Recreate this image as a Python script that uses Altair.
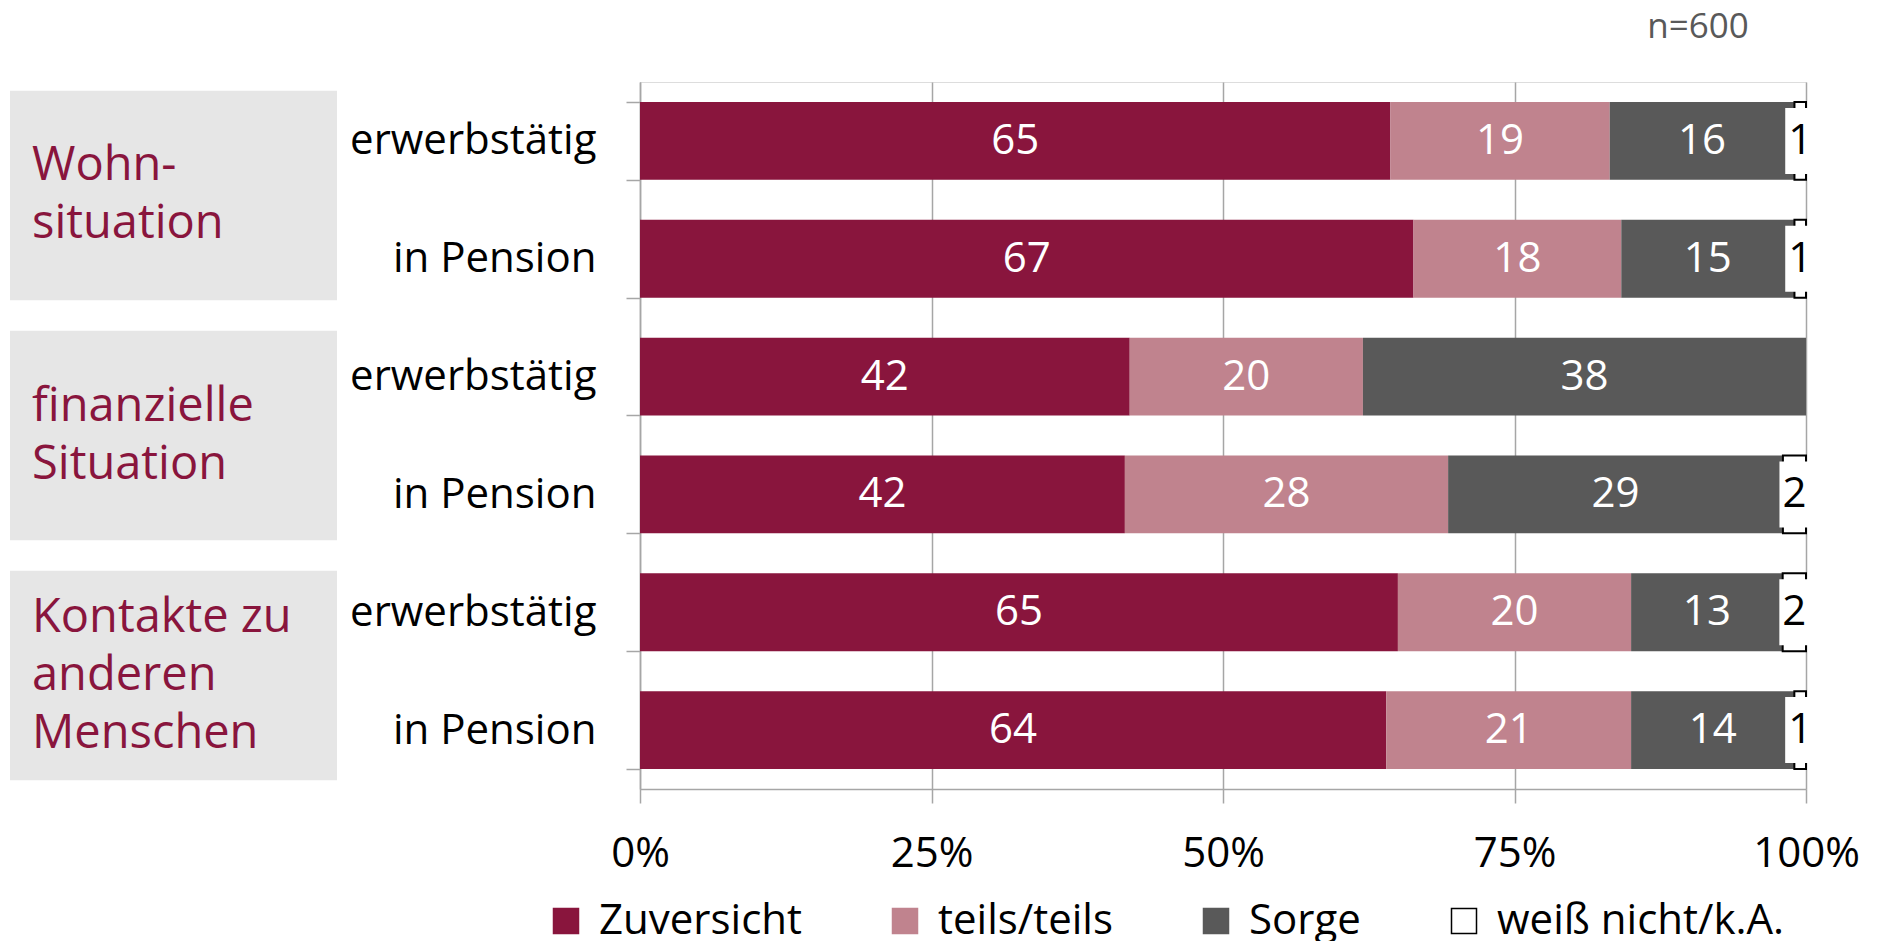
import altair as alt
import pandas as pd

# ---- data ----
group_keys = ["Wohnsituation", "Finanzen", "Kontakte"]
group_labels = ["Wohn-\nsituation", "finanzielle\nSituation", "Kontakte zu\nanderen\nMenschen"]
subgroups = ["erwerbstätig", "in Pension"]
categories = ["Zuversicht", "teils/teils", "Sorge", "weiß nicht/k.A."]
zuversicht = [65, 67, 42, 42, 65, 64]
teils = [19, 18, 20, 28, 20, 21]
sorge = [16, 15, 38, 29, 13, 14]
weiss = [1, 1, 0, 2, 2, 1]
n_label = "n=600"

colors = ["#89153D", "#C0838E", "#595959", "#FFFFFF"]
strokes = ["#89153D", "#C0838E", "#595959", "#000000"]
FONT = "Open Sans"
FS = 42
GFS = 47
LINE_H = 58

# ---- build tables ----
row_keys = [f"{g}|{s}" for g in group_keys for s in subgroups]
series = [zuversicht, teils, sorge, weiss]
records = []
for ri, rk in enumerate(row_keys):
    for ci, cat in enumerate(categories):
        records.append({"row": rk, "cat": cat, "order": ci, "value": series[ci][ri]})
df = pd.DataFrame(records)
gdf = pd.DataFrame({
    "group": group_keys,
    "label": group_labels,
    "nlines": [len(s.split("\n")) for s in group_labels],
})
ndf = pd.DataFrame({"t": [n_label]})

y_scale = alt.Scale(domain=row_keys, paddingInner=0.34, paddingOuter=0.17)
g_scale = alt.Scale(domain=group_keys, paddingInner=0.127, paddingOuter=0.036)

base = (
    alt.Chart(df)
    .transform_filter("datum.value > 0")
    .transform_stack(
        stack="value",
        groupby=["row"],
        sort=[alt.SortField("order", order="ascending")],
        as_=["v0", "v1"],
        offset="normalize",
    )
    .transform_calculate(mid="(datum.v0 + datum.v1) / 2")
)

legend_params = dict(
    title=None,
    orient="none",
    legendX=-95,
    legendY=818,
    direction="horizontal",
    symbolType="square",
    symbolSize=625,
    symbolStrokeWidth=1.5,
    labelFontSize=FS,
    labelFont=FONT,
    labelColor="black",
    labelLimit=500,
    labelOffset=12,
    columnPadding=82,
    padding=0,
)

y_axis = alt.Axis(
    title=None,
    labelExpr="split(datum.label, '|')[1]",
    labelFontSize=FS,
    labelFont=FONT,
    labelColor="black",
    labelLimit=500,
    labelPadding=30,
    tickSize=14,
    tickBand="extent",
    tickColor="#A6A6A6",
    tickWidth=1.5,
    domainColor="#A6A6A6",
    domainWidth=1.5,
    grid=False,
)

x_axis = alt.Axis(
    title=None,
    values=[0, 0.25, 0.5, 0.75, 1],
    format="%",
    labelFontSize=FS,
    labelFont=FONT,
    labelColor="black",
    labelFlush=False,
    labelPadding=30,
    tickSize=14,
    tickColor="#A6A6A6",
    tickWidth=1.5,
    domainColor="#A6A6A6",
    domainWidth=1.5,
    grid=True,
    gridColor="#A6A6A6",
    gridWidth=1.5,
)

bars = base.mark_bar().encode(
    y=alt.Y("row:N", scale=y_scale, axis=y_axis, sort=row_keys),
    x=alt.X("v0:Q", scale=alt.Scale(domain=[0, 1], nice=False), axis=x_axis),
    x2="v1:Q",
    fill=alt.Fill("cat:N", scale=alt.Scale(domain=categories, range=colors), legend=alt.Legend(**legend_params)),
    stroke=alt.Stroke("cat:N", scale=alt.Scale(domain=categories, range=strokes), legend=alt.Legend(**legend_params)),
    strokeWidth=alt.condition("datum.cat == 'weiß nicht/k.A.'", alt.value(2), alt.value(0)),
)

label_box = (
    base.transform_filter("datum.cat == 'weiß nicht/k.A.'")
    .mark_point(shape="M-0.4545,-1H0.4545V1H-0.4545Z", filled=True, fill="white", opacity=1, size=4356, strokeWidth=0)
    .encode(y=alt.Y("row:N", scale=y_scale, sort=row_keys), x=alt.X("mid:Q"))
)

labels = base.mark_text(font=FONT, fontSize=FS, baseline="middle", align="center").encode(
    y=alt.Y("row:N", scale=y_scale, sort=row_keys),
    x=alt.X("mid:Q"),
    text=alt.Text("value:Q"),
    color=alt.condition("datum.cat == 'weiß nicht/k.A.'", alt.value("black"), alt.value("white")),
)

n_text = alt.Chart(ndf).mark_text(font=FONT, fontSize=35, color="#595959", align="center", baseline="middle").encode(
    text="t:N", x=alt.value(1058), y=alt.value(-55)
)

boxes = alt.Chart(gdf).mark_rect(color="#E6E6E6").encode(
    y=alt.Y("group:N", scale=g_scale, axis=None, sort=group_keys),
    x=alt.value(-630),
    x2=alt.value(-303),
)

# one text layer per line count, so that each block is centred in its box
group_text_layers = []
for n in sorted(set(gdf["nlines"])):
    group_text_layers.append(
        alt.Chart(gdf)
        .transform_filter(f"datum.nlines == {n}")
        .mark_text(
            font=FONT, fontSize=GFS, color="#89153D", align="left", baseline="middle",
            lineBreak="\n", lineHeight=LINE_H, dy=-(n - 1) * LINE_H / 2,
        )
        .encode(
            y=alt.Y("group:N", scale=g_scale, axis=None, sort=group_keys),
            x=alt.value(-608),
            text="label:N",
        )
    )

left = alt.layer(boxes, *group_text_layers)
right = alt.layer(bars, label_box, labels, n_text)

chart = (
    alt.layer(left, right)
    .resolve_scale(y="independent")
    .properties(
        width=1166,
        height=707,
        autosize=alt.AutoSizeParams(type="none"),
        padding={"left": 632, "top": 74, "right": 74, "bottom": 152},
    )
    .configure_view(stroke=None)
    .configure(font=FONT)
)

chart.save("out.html", embed_options={"renderer": "svg", "actions": False})
